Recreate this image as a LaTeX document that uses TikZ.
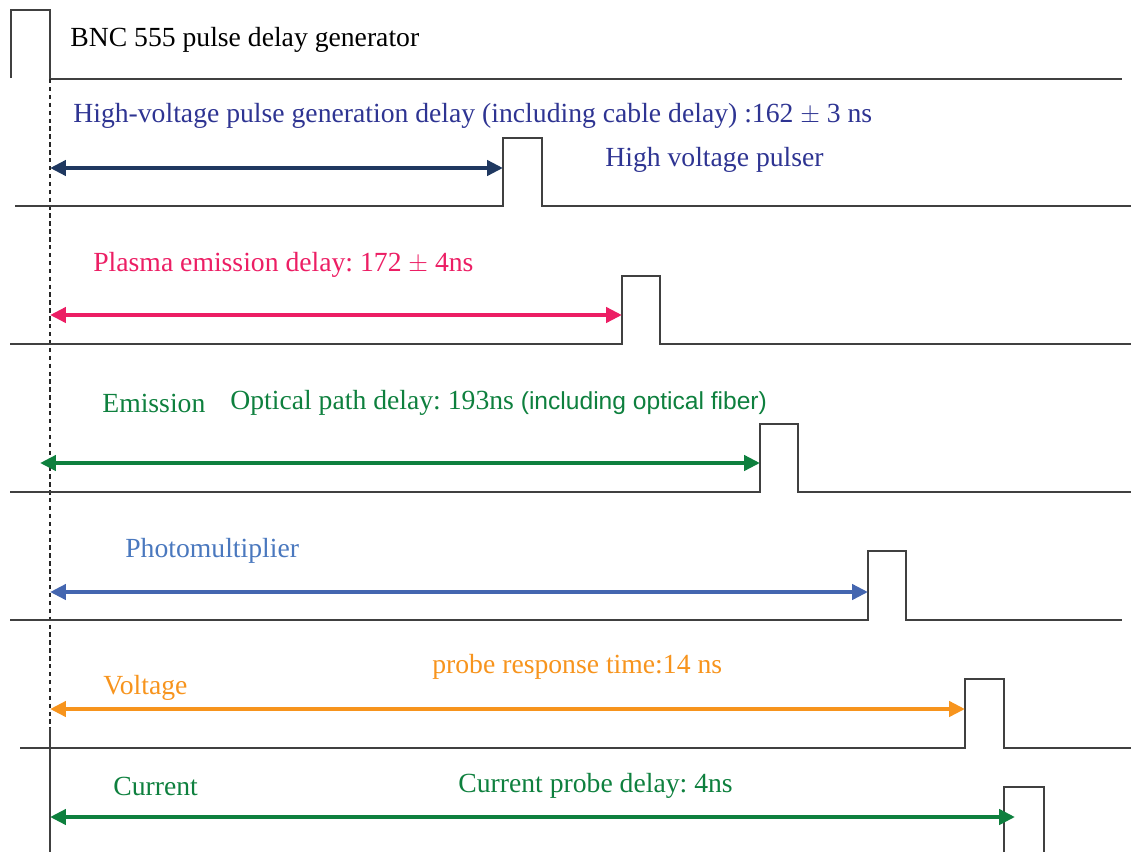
\documentclass[tikz,border=0pt]{standalone}
\usepackage{fontspec}
\setmainfont{Liberation Serif}
\setsansfont{Liberation Sans}
\usetikzlibrary{positioning, arrows.meta}
\frenchspacing

\definecolor{hvtext}{RGB}{46,52,146}
\definecolor{hvarrow}{RGB}{31,56,96}
\definecolor{plasma}{RGB}{236,30,100}
\definecolor{optgreen}{RGB}{14,128,62}
\definecolor{pmt}{RGB}{74,120,190}
\definecolor{pmtarrow}{RGB}{68,102,176}
\definecolor{volt}{RGB}{247,148,29}
\definecolor{trace}{RGB}{64,64,64}

\tikzset{
    pulse/.style={draw=trace, line width=0.75pt},
    delay/.style={line width=2.4pt, {Triangle[length=9pt, width=8.5pt]}-{Triangle[length=9pt, width=8.5pt]}},
    label/.style={anchor=west, inner sep=0pt, font=\fontsize{15.75}{18}\selectfont}
}

\begin{document}
\begin{tikzpicture}[x=0.02cm, y=-0.02cm]
    \useasboundingbox (0,0) rectangle (1131,852);

    % Trigger pulse
    \draw[pulse] (11,78) -- (11,10) -- (50,10) -- (50,79) -- (1122,79);
    \draw[black!85, line width=0.6pt, dash pattern=on 2.5pt off 2pt] (50,79) -- (50,728);
    \draw[trace, line width=0.7pt] (50,728) -- (50,852);
    \node[label] (bnc) at (70,40) {BNC 555 pulse delay generator};

    % Pulses
    \foreach \y/\xs/\xa/\xb/\t/\xe in {206/15/503/542/138/1131, 344/10/622/660/276/1131,
        492/10/760/798/424/1131, 620/10/868/906/551/1122, 748/20/965/1004/679/1131}
        \draw[pulse] (\xs,\y) -- (\xa,\y) -- (\xa,\t) -- (\xb,\t) -- (\xb,\y) -- (\xe,\y);
    \draw[pulse] (1004,852) -- (1004,787) -- (1044,787) -- (1044,852);

    % Arrow ends
    \coordinate (hv0) at (50,168);   \coordinate (hv1) at (503,168);
    \coordinate (pl0) at (50,315);   \coordinate (pl1) at (622,315);
    \coordinate (op0) at (40,463);   \coordinate (op1) at (760,463);
    \coordinate (pm0) at (50,592);   \coordinate (pm1) at (868,592);
    \coordinate (vp0) at (50,709);   \coordinate (vp1) at (965,709);
    \coordinate (cp0) at (50,817);   \coordinate (cp1) at (1015,817);

    % Delays
    \draw[delay, hvarrow] (hv0) -- (hv1);
    \draw[delay, plasma] (pl0) -- (pl1);
    \draw[delay, optgreen] (op0) -- (op1);
    \draw[delay, pmtarrow] (pm0) -- (pm1);
    \draw[delay, volt] (vp0) -- (vp1);
    \draw[delay, optgreen] (cp0) -- (cp1);

    % Labels
    \node[label, hvtext] (hvdelay) at (73,116) {High-voltage pulse generation delay (including cable delay) :162 $\pm$ 3 ns};
    \node[label, hvtext] (hvpulser) at (605,160) {High voltage pulser};
    \node[label, plasma] (pldelay) at (93,265) {Plasma emission delay: 172 $\pm$ 4ns};
    \node[label, optgreen] (emission) at (102,403) {Emission};
    \node[label, optgreen] (opdelay) at (230,403) {Optical path delay: 193ns {\sffamily\fontsize{14}{18}\selectfont (including optical fiber)}};
    \node[label, pmt] (pmtlabel) at (125,551) {Photomultiplier};
    \node[label, volt] (voltage) at (103,688) {Voltage};
    \node[label, volt] (vpdelay) at (432,667) {probe response time:14 ns};
    \node[label, optgreen] (current) at (113,786) {Current};
    \node[label, optgreen] (cpdelay) at (458,786) {Current probe delay: 4ns};
\end{tikzpicture}
\end{document}
